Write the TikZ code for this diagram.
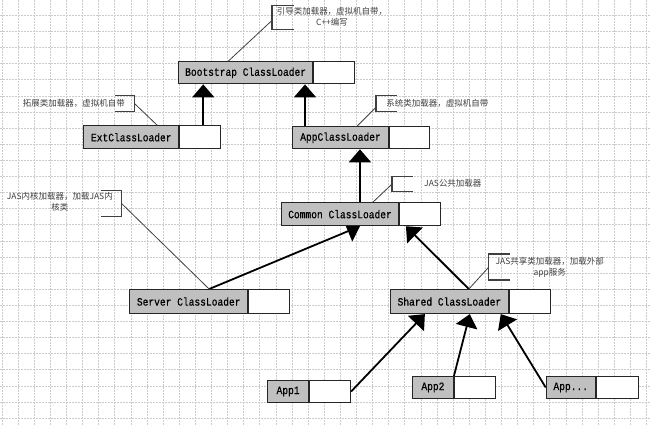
\documentclass[tikz,border=0pt]{standalone}
\usepackage{fontspec}
\usetikzlibrary{arrows.meta}
\newfontfamily\boxfont[FakeStretch=0.85,FakeBold=0.6]{Liberation Mono}
\newfontfamily\cjk{Noto Sans CJK SC}
\definecolor{boxgrey}{HTML}{C0C0C0}
\definecolor{gridc}{HTML}{CCCCCC}
\definecolor{notec}{HTML}{404040}
\pgfdeclarelayer{gridlayer}
\pgfdeclarelayer{backlayer}
\pgfsetlayers{gridlayer,backlayer,main}
\begin{document}
\begin{tikzpicture}[x=1pt,y=-1pt,
  greypart/.style={draw=black!85, line width=1.1pt, fill=boxgrey, inner sep=0pt, anchor=north west, font=\boxfont\fontsize{11.3}{13}\selectfont},
  whitepart/.style={draw=black!85, line width=1.1pt, fill=white, inner sep=0pt, anchor=north west},
  arr/.style={line width=1.8pt, -{Triangle[width=22pt,length=13pt]}},
  leader/.style={draw=notec, line width=0.8pt},
  bracket/.style={draw=notec, line width=1.2pt},
  note/.style={font=\cjk\fontsize{8.5}{11}\selectfont, text=notec, inner sep=0pt, align=center},
  gridline/.style={draw=gridc, line width=0.8pt, dash pattern=on 2pt off 1pt}
]
\begin{pgfonlayer}{gridlayer}
\fill[white] (0,0) rectangle (650,425);
\foreach \i in {0,...,40} \draw[gridline] ({1.7+16.13*\i},0) -- ({1.7+16.13*\i},425);
\foreach \j in {0,...,25} \draw[gridline] (0,{15+16.13*\j}) -- (650,{15+16.13*\j});
\end{pgfonlayer}
\useasboundingbox (0,0) rectangle (650,425);

% boxes
\node[greypart, minimum width=134pt, minimum height=22pt] (boot) at (178,61) {Bootstrap ClassLoader};
\node[whitepart, minimum width=41pt, minimum height=22pt] (bootw) at (boot.north east) {};
\node[greypart, minimum width=95pt, minimum height=23pt] (ext) at (83,125) {ExtClassLoader};
\node[whitepart, minimum width=41pt, minimum height=23pt] (extw) at (ext.north east) {};
\node[greypart, minimum width=96pt, minimum height=22pt] (app) at (292,126) {AppClassLoader};
\node[whitepart, minimum width=40pt, minimum height=22pt] (appw) at (app.north east) {};
\node[greypart, minimum width=117pt, minimum height=23pt] (common) at (281,202) {Common ClassLoader};
\node[whitepart, minimum width=41pt, minimum height=23pt] (commonw) at (common.north east) {};
\node[greypart, minimum width=118pt, minimum height=24pt] (server) at (129,289) {Server ClassLoader};
\node[whitepart, minimum width=41pt, minimum height=24pt] (serverw) at (server.north east) {};
\node[greypart, minimum width=118pt, minimum height=24pt] (shared) at (390,289) {Shared ClassLoader};
\node[whitepart, minimum width=41pt, minimum height=24pt] (sharedw) at (shared.north east) {};
\node[greypart, minimum width=41pt, minimum height=22pt] (app1) at (267,380) {App1};
\node[whitepart, minimum width=41pt, minimum height=22pt] (app1w) at (app1.north east) {};
\node[greypart, minimum width=41pt, minimum height=22pt] (app2) at (412,376) {App2};
\node[whitepart, minimum width=41pt, minimum height=22pt] (app2w) at (app2.north east) {};
\node[greypart, minimum width=49pt, minimum height=22pt] (appx) at (546,376) {App...};
\node[whitepart, minimum width=42pt, minimum height=22pt] (appxw) at (appx.north east) {};

% arrows
\begin{pgfonlayer}{backlayer}
\draw[arr] ([xshift=24pt]ext.north east) -- ([xshift=24pt]ext.north east |- boot.south);
\draw[arr] ([xshift=13pt]app.north west) -- ([xshift=13pt]app.north west |- boot.south);
\draw[arr] ([xshift=79pt]common.north west) -- ([xshift=79pt]common.north west |- app.south);
\draw[arr] ([xshift=80pt]server.north west) -- ([xshift=79pt]common.south west);
\draw[arr] ([xshift=79pt]shared.north west) -- ([xshift=125pt]common.south west);
\draw[arr] (app1w.east) -- ([xshift=35pt]shared.south west);
\draw[arr] (app2.north east) -- ([xshift=80pt]shared.south west);
\draw[arr] (appx.west) -- ([xshift=111pt]shared.south west);
\end{pgfonlayer}

% notes
\draw[bracket] (294,5) -- (272,5) -- (272,29) -- (294,29);
\coordinate (bootpin) at (272,20);
\draw[leader] (bootpin) -- ([xshift=50pt]boot.north west);
\node[note] (bootnote) at (332,16) {引导类加载器，虚拟机自带，\\C++编写};

\draw[bracket] (115,95) -- (134,95) -- (134,111) -- (115,111);
\coordinate (extpin) at (134,103);
\draw[leader] (extpin) -- ([xshift=74pt]ext.north west);
\node[note] (extnote) at (73.5,103) {拓展类加载器，虚拟机自带};

\draw[bracket] (397,95) -- (376,95) -- (376,111) -- (397,111);
\coordinate (apppin) at (376,107);
\draw[leader] (apppin) -- ([xshift=65pt]app.north west);
\node[note] (appnote) at (437.5,103) {系统类加载器，虚拟机自带};

\draw[bracket] (413,176) -- (392,176) -- (392,191) -- (413,191);
\coordinate (commonpin) at (392,184);
\draw[leader] (commonpin) -- ([xshift=92pt]common.north west);
\node[note] (commonnote) at (453,183) {JAS公共加载器};

\draw[bracket] (101,190) -- (121,190) -- (121,216) -- (101,216);
\coordinate (serverpin) at (121,203);
\draw[leader] (serverpin) -- ([xshift=80pt]server.north west);
\node[note] (servernote) at (59.5,201.5) {JAS内核加载器，加载JAS内\\核类};

\draw[bracket] (510,254) -- (489,254) -- (489,280) -- (510,280);
\coordinate (sharedpin) at (489,267);
\draw[leader] (sharedpin) -- ([xshift=79pt]shared.north west);
\node[note] (sharednote) at (550,267) {JAS共享类加载器，加载外部\\app服务};
\end{tikzpicture}
\end{document}
